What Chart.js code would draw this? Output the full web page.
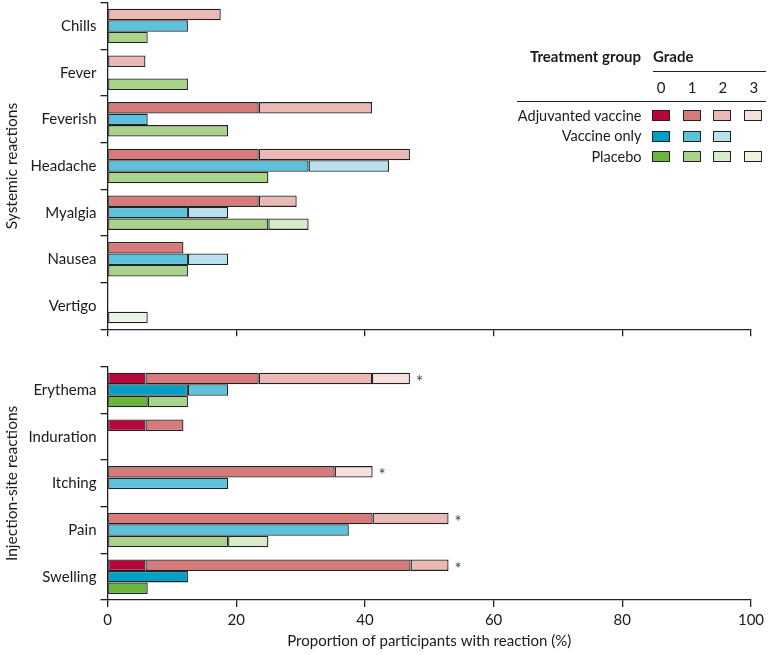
<!DOCTYPE html>
<html><head><meta charset="utf-8">
<script src="https://cdn.jsdelivr.net/npm/chart.js@4"></script>
<style>
html,body{margin:0;padding:0;background:#fff;}
body{width:768px;height:655px;position:relative;overflow:hidden;font-family:Lato,"Open Sans",sans-serif;color:#1a1a1a;}
canvas{position:absolute;left:0;}
#c1{top:0;}
#c2{top:350px;}
.lg{position:absolute;font-size:14.5px;line-height:18px;white-space:nowrap;}
.b{font-weight:bold;font-size:15px;}
.r{text-align:right;}
.c{text-align:center;width:20px;font-size:15px;}
.hl{position:absolute;height:1.3px;background:#222;}
.sw{position:absolute;width:16px;height:9px;border:1.3px solid #222;}
</style></head>
<body>
<canvas id="c1" width="768" height="345"></canvas>
<canvas id="c2" width="768" height="305"></canvas>
<div id="legend"></div>
<script>
// ---------- DATA ----------
const sysCategories = ['Chills','Fever','Feverish','Headache','Myalgia','Nausea','Vertigo'];
const injCategories = ['Erythema','Induration','Itching','Pain','Swelling'];
const groupNames = ['Adjuvanted vaccine','Vaccine only','Placebo'];
const gradeLabels = ['0','1','2','3'];
const xTickStep = 20;
const xMax = 100;
const xTitle = 'Proportion of participants with reaction (%)';
const sysTitle = 'Systemic reactions';
const injTitle = 'Injection-site reactions';

// Systemic reactions (% of participants), per grade
const sysAdjG0 = [0, 0, 0, 0, 0, 0, 0];
const sysAdjG1 = [0, 0, 23.5, 23.5, 23.5, 11.8, 0];
const sysAdjG2 = [17.6, 5.9, 17.6, 23.5, 5.9, 0, 0];
const sysAdjG3 = [0, 0, 0, 0, 0, 0, 0];
const sysVacG0 = [0, 0, 0, 0, 0, 0, 0];
const sysVacG1 = [12.5, 0, 6.25, 31.25, 12.5, 12.5, 0];
const sysVacG2 = [0, 0, 0, 12.5, 6.25, 6.25, 0];
const sysPlaG0 = [0, 0, 0, 0, 0, 0, 0];
const sysPlaG1 = [6.25, 12.5, 18.75, 25, 25, 12.5, 0];
const sysPlaG2 = [0, 0, 0, 0, 6.25, 0, 0];
const sysPlaG3 = [0, 0, 0, 0, 0, 0, 6.25];

// Injection-site reactions (% of participants), per grade
const injAdjG0 = [5.9, 5.9, 0, 0, 5.9];
const injAdjG1 = [17.6, 5.9, 35.3, 41.2, 41.2];
const injAdjG2 = [17.6, 0, 0, 11.8, 5.9];
const injAdjG3 = [5.9, 0, 5.9, 0, 0];
const injVacG0 = [12.5, 0, 0, 0, 12.5];
const injVacG1 = [6.25, 0, 18.75, 37.5, 0];
const injVacG2 = [0, 0, 0, 0, 0];
const injPlaG0 = [6.25, 0, 0, 0, 6.25];
const injPlaG1 = [6.25, 0, 0, 18.75, 0];
const injPlaG2 = [0, 0, 0, 6.25, 0];
const injPlaG3 = [0, 0, 0, 0, 0];
const injSignificant = [true, false, true, true, true];

// ---------- STYLE ----------
const adjColours = ['#b8063c', '#d67b79', '#eab9b6', '#f6e0dd'];
const vacColours = ['#00a0c6', '#5cc1dc', '#b8e1ed'];
const plaColours = ['#6bb43e', '#a9d38b', '#d7ebc6', '#ecf4e3'];
const groupColours = [adjColours, vacColours, plaColours];
const ink = '#222';
const FONT = 'Lato, "Open Sans", sans-serif';

function buildDatasets(adj, vac, pla) {
  const out = [];
  [adj, vac, pla].forEach((grades, gi) => {
    grades.forEach((vals, k) => {
      out.push({
        label: groupNames[gi] + ' grade ' + gradeLabels[k],
        data: vals,
        stack: 'g' + gi,
        backgroundColor: groupColours[gi][k],
        borderColor: ink,
        borderWidth: 1.3,
        borderSkipped: false,
        inflateAmount: 0,
        barPercentage: 1,
        categoryPercentage: 0.74
      });
    });
  });
  return out;
}

const asteriskPlugin = {
  id: 'asterisks',
  afterDatasetsDraw(chart, args, opts) {
    if (!opts.flags) return;
    const ctx = chart.ctx;
    const xs = chart.scales.x;
    ctx.save();
    ctx.fillStyle = '#444';
    ctx.font = '17px ' + FONT;
    ctx.textAlign = 'left';
    ctx.textBaseline = 'middle';
    opts.flags.forEach((f, j) => {
      if (!f) return;
      let total = 0; let y = null;
      chart.data.datasets.forEach((ds, di) => {
        if (ds.stack !== 'g0') return;
        total += ds.data[j] || 0;
        y = chart.getDatasetMeta(di).data[j].y;
      });
      ctx.fillText('*', xs.getPixelForValue(total) + 6, y + 4);
    });
    ctx.restore();
  }
};

function makeOptions(cfg) {
  return {
    indexAxis: 'y',
    responsive: false,
    animation: false,
    devicePixelRatio: 1,
    layout: { padding: { top: cfg.padTop, right: 17, left: 0, bottom: 0 } },
    plugins: {
      legend: { display: false },
      tooltip: { enabled: false },
      asterisks: { flags: cfg.flags || null }
    },
    scales: {
      x: {
        stacked: true, min: 0, max: xMax,
        afterFit: s => { s.height = cfg.xHeight; s.paddingLeft = 0; s.paddingRight = 0; },
        border: { display: true, color: ink, width: 1.3 },
        grid: { drawOnChartArea: false, drawTicks: true, tickLength: 7, color: ink, lineWidth: 1.3 },
        ticks: {
          stepSize: xTickStep, padding: 4, color: '#1a1a1a', maxRotation: 0,
          font: { family: FONT, size: 15 },
          callback: cfg.showX ? (v => v) : (() => '')
        },
        title: cfg.showX ? {
          display: true, text: xTitle, color: '#1a1a1a',
          font: { family: FONT, size: 15 }, padding: { top: 2, bottom: 5 }
        } : { display: false }
      },
      y: {
        stacked: true,
        afterFit: s => { s.width = 107.5; s.paddingTop = 0; s.paddingBottom = 0; },
        border: { display: true, color: ink, width: 1.3 },
        grid: { offset: true, drawOnChartArea: false, drawTicks: true, tickLength: 7, color: ink, lineWidth: 1.3 },
        ticks: { color: '#1a1a1a', padding: 4, font: { family: FONT, size: 15 } },
        title: { display: true, text: cfg.yTitle, color: '#1a1a1a', font: { family: FONT, size: 15.5 }, padding: { top: 3, bottom: 3 } }
      }
    }
  };
}

new Chart(document.getElementById('c1'), {
  type: 'bar',
  data: {
    labels: sysCategories,
    datasets: buildDatasets(
      [sysAdjG0, sysAdjG1, sysAdjG2, sysAdjG3],
      [sysVacG0, sysVacG1, sysVacG2],
      [sysPlaG0, sysPlaG1, sysPlaG2, sysPlaG3])
  },
  options: makeOptions({ padTop: 2.7, xHeight: 15.7, showX: false, yTitle: sysTitle }),
  plugins: [asteriskPlugin]
});

new Chart(document.getElementById('c2'), {
  type: 'bar',
  data: {
    labels: injCategories,
    datasets: buildDatasets(
      [injAdjG0, injAdjG1, injAdjG2, injAdjG3],
      [injVacG0, injVacG1, injVacG2],
      [injPlaG0, injPlaG1, injPlaG2, injPlaG3])
  },
  options: makeOptions({ padTop: 16.7, xHeight: 55, showX: true, yTitle: injTitle, flags: injSignificant }),
  plugins: [asteriskPlugin]
});

// ---------- LEGEND (HTML) ----------
(function () {
  const L = document.getElementById('legend');
  function add(txt, cls, style) {
    const d = document.createElement('div');
    d.className = cls; d.textContent = txt; Object.assign(d.style, style); L.appendChild(d); return d;
  }
  add('Treatment group', 'lg b r', { right: (768 - 641) + 'px', top: '47px' });
  add('Grade', 'lg b', { left: '653px', top: '47px' });
  add('', 'hl', { left: '653px', top: '71px', width: '113px' });
  const colX = [651.5, 682.5, 713.3, 744.3];
  gradeLabels.forEach((g, k) => add(g, 'lg c', { left: (colX[k] - 0.5) + 'px', top: '78px' }));
  add('', 'hl', { left: '517px', top: '100.5px', width: '249px' });
  const rowY = [116, 136.5, 157];
  groupNames.forEach((n, gi) => {
    add(n, 'lg r', { right: (768 - 641.5) + 'px', top: (rowY[gi] - 9.5) + 'px' });
    groupColours[gi].forEach((c, k) => {
      add('', 'sw', { left: colX[k] + 'px', top: (rowY[gi] - 5.7) + 'px', background: c });
    });
  });
})();
</script>
</body></html>
